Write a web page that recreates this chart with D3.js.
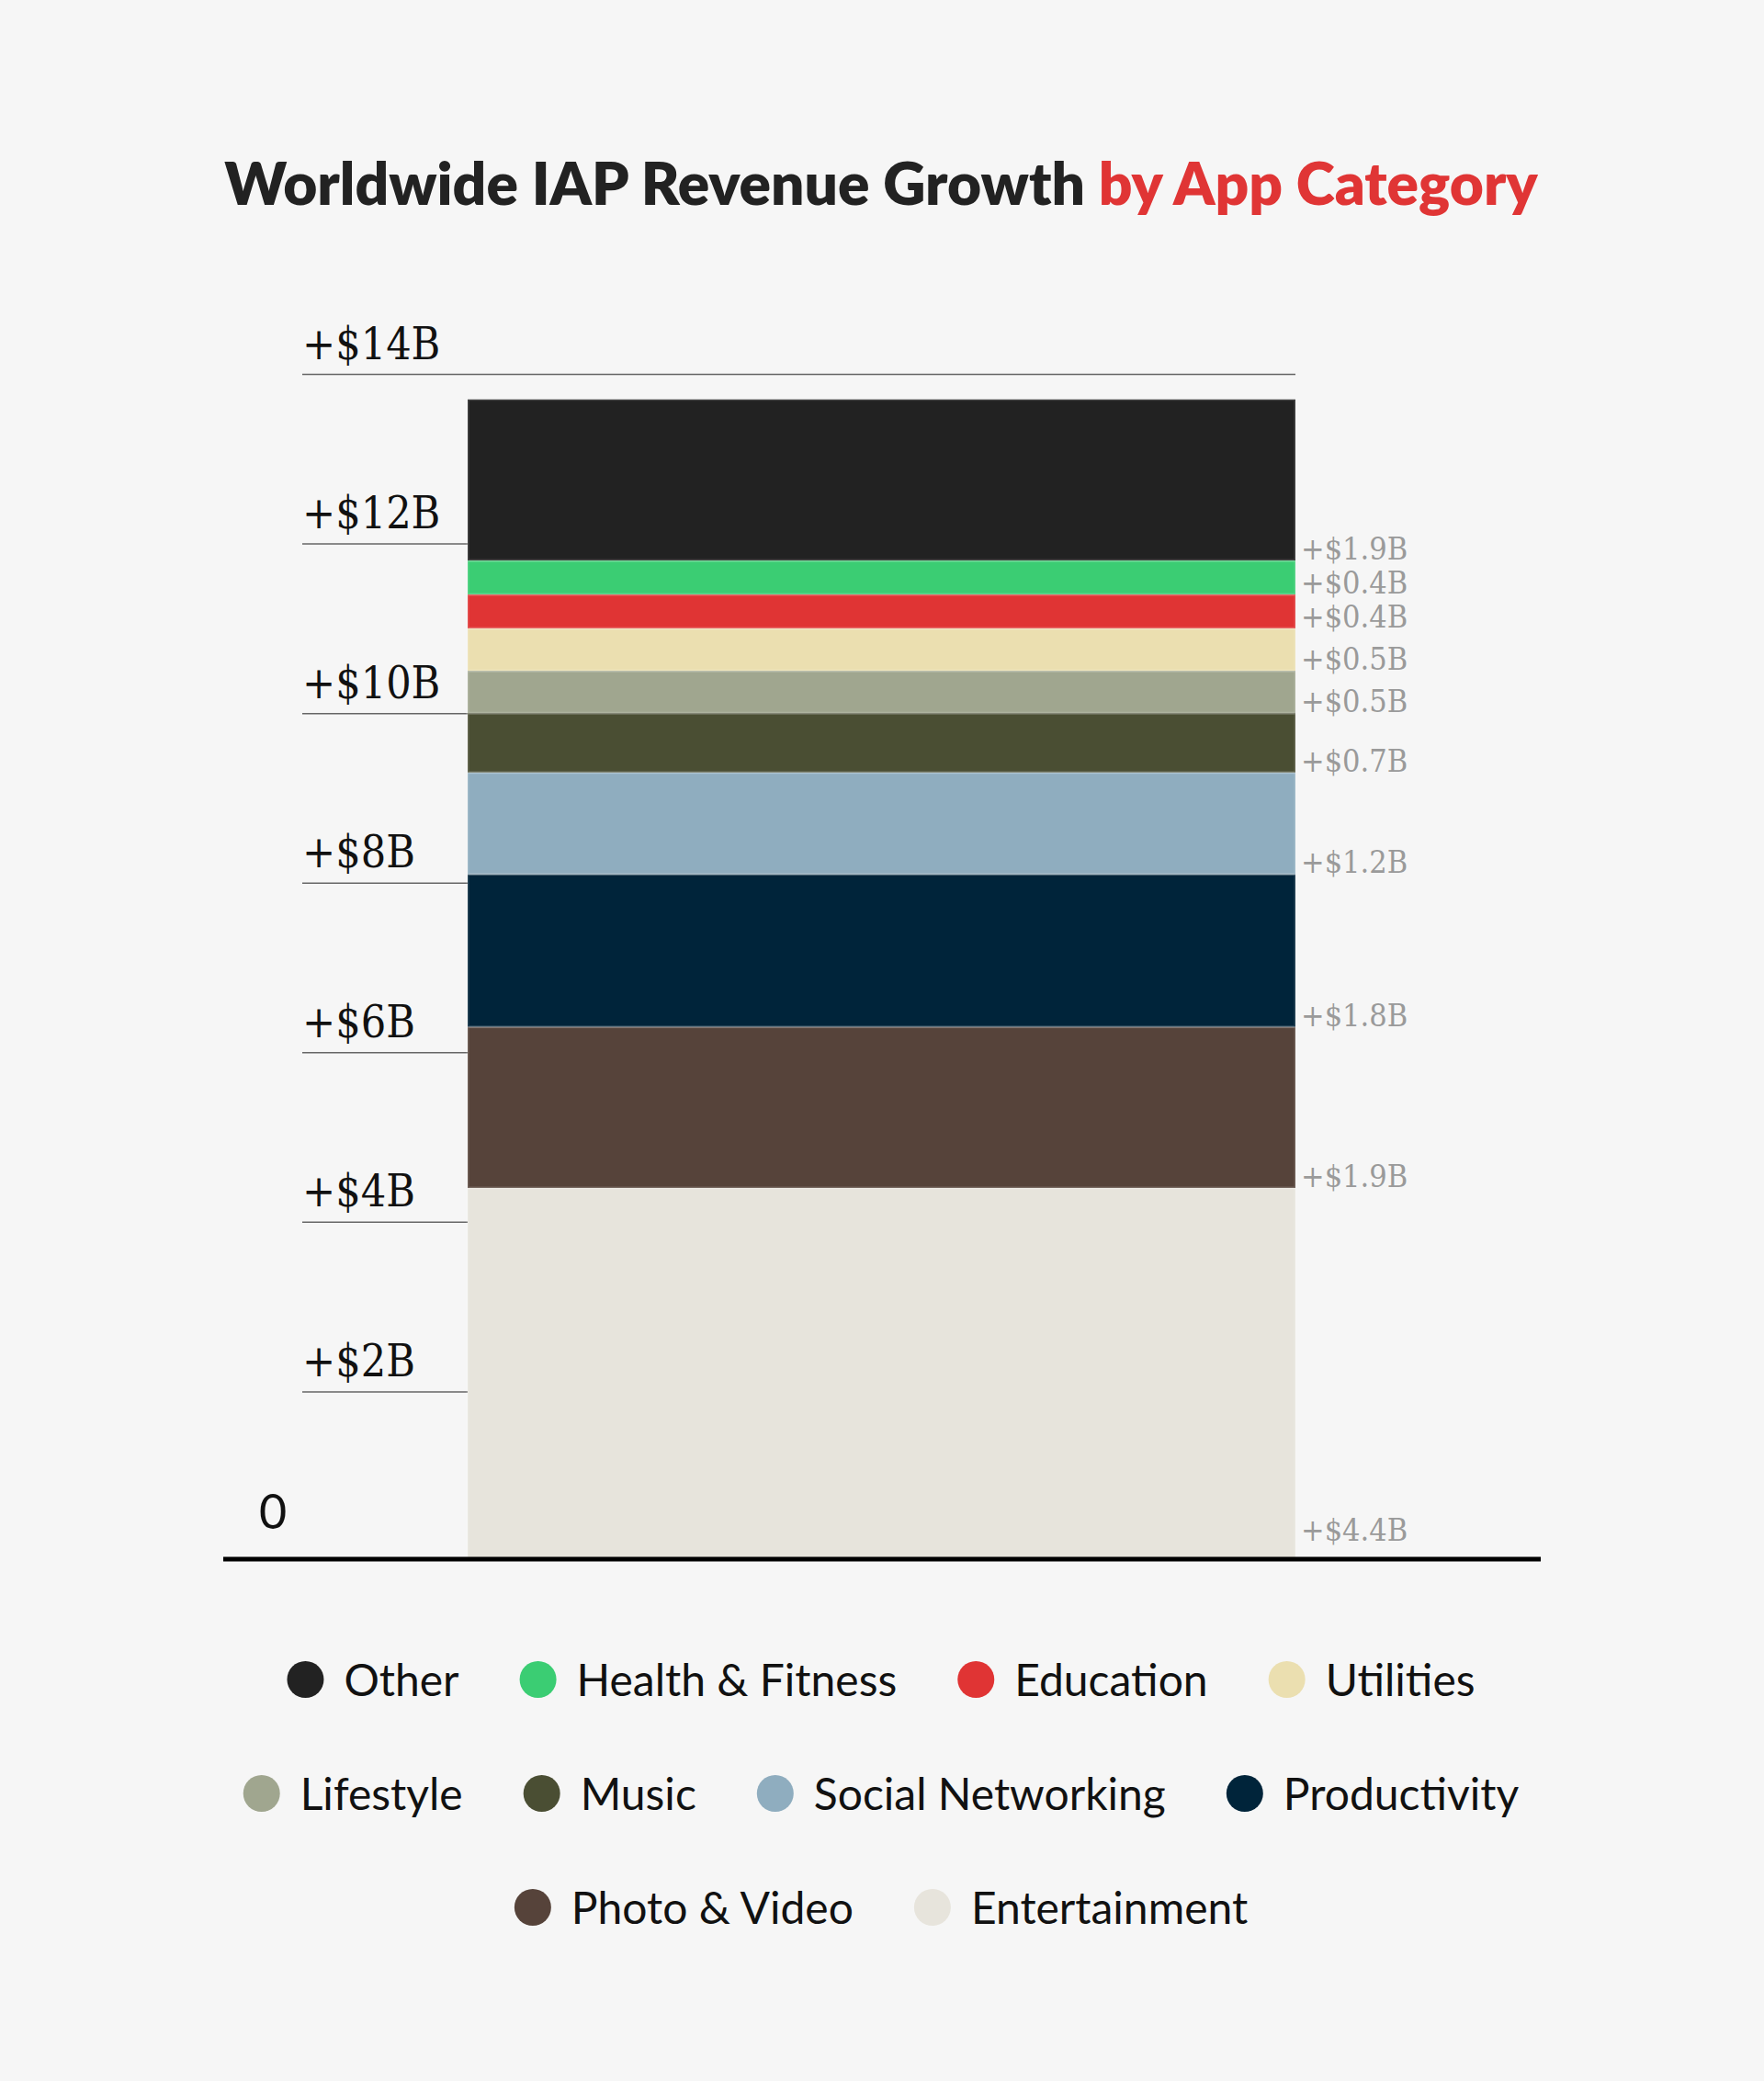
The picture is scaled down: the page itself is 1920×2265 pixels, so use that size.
<!DOCTYPE html>
<html>
<head>
<meta charset="utf-8">
<script src="https://cdn.jsdelivr.net/npm/d3@7"></script>
<style>
  body { margin: 0; background: #f6f6f6; }
  svg { display: block; }
</style>
</head>
<body>
<div id="chart"></div>
<script>
// stacking order, bottom to top
const categories = ['Entertainment', 'Photo & Video', 'Productivity', 'Social Networking', 'Music',
  'Lifestyle', 'Utilities', 'Education', 'Health & Fitness', 'Other'];
const growth = [4.4, 1.9, 1.8, 1.2, 0.7, 0.5, 0.5, 0.4, 0.4, 1.9];
const colors = ['#e7e4dc', '#56433a', '#00243a', '#8fadbf', '#4a4e33',
  '#a0a68f', '#ebdfb0', '#e03434', '#3bcd73', '#222222'];
const tickValues = [0, 2, 4, 6, 8, 10, 12, 14];
const legendRows = [
  ['Other', 'Health & Fitness', 'Education', 'Utilities'],
  ['Lifestyle', 'Music', 'Social Networking', 'Productivity'],
  ['Photo & Video', 'Entertainment']
];

const W = 1920, H = 2265;
const GridLeft = 329, BarLeft = 509, BarRight = 1410;
const Bottom = 1699, Top = 407;

const svg = d3.select('#chart').append('svg')
  .attr('width', W).attr('height', H)
  .style('background', '#f6f6f6');

// title
const title = svg.append('text')
  .attr('x', 959).attr('y', 223)
  .attr('text-anchor', 'middle')
  .style('font-family', 'Lato, sans-serif')
  .style('font-weight', 800)
  .style('font-size', '64px')
  .style('fill', '#222');
title.append('tspan').text('Worldwide IAP Revenue Growth ');
title.append('tspan').style('fill', '#e03535').text('by App Category');

const y = d3.scaleLinear().domain([0, 14]).range([Bottom, Top]);
const x = d3.scaleBand().domain(['growth']).range([BarLeft, BarRight]).padding(0);

// gridlines + tick labels
const axis = svg.append('g')
  .attr('transform', `translate(${GridLeft},0)`)
  .call(d3.axisRight(y)
    .tickValues(tickValues)
    .tickSize(BarRight - GridLeft)
    .tickFormat(d => (d === 0 ? '0' : `+$${d}B`)));
axis.select('.domain').remove();
axis.selectAll('.tick line').attr('stroke', '#666').attr('stroke-width', 1.5);
axis.selectAll('.tick text')
  .attr('x', 0).attr('y', -17).attr('dy', null)
  .attr('text-anchor', 'start')
  .style('font-family', '"DejaVu Serif", serif')
  .style('font-stretch', 'condensed')
  .style('font-size', '48px')
  .style('fill', '#111');
const zeroTick = axis.selectAll('.tick').filter(d => d === 0);
zeroTick.select('line').remove();
zeroTick.select('text')
  .attr('x', -47).attr('y', -36)
  .style('font-family', 'Lato, sans-serif')
  .style('font-stretch', null)
  .style('font-size', '52px');

// stacked bar
const row = {};
categories.forEach((c, i) => { row[c] = growth[i]; });
const series = d3.stack().keys(categories)([row]);

svg.append('g').selectAll('rect')
  .data(series)
  .enter()
  .append('rect')
  .attr('x', x('growth'))
  .attr('width', x.bandwidth())
  .attr('y', d => y(d[0][1]))
  .attr('height', d => y(d[0][0]) - y(d[0][1]))
  .attr('fill', (d, i) => colors[i])
  .attr('stroke', 'rgba(255,255,255,0.15)')
  .attr('stroke-width', 3);

// value labels on the right of each segment
svg.append('g').selectAll('text')
  .data(series)
  .enter()
  .append('text')
  .attr('x', BarRight + 6)
  .attr('y', d => Math.min(y(d[0][0]) - 1, Bottom - 22))
  .style('font-family', '"DejaVu Serif", serif')
  .style('font-stretch', 'condensed')
  .style('font-size', '34px')
  .style('fill', '#9a9a9a')
  .text((d, i) => `+$${growth[i]}B`);

// baseline
svg.append('line')
  .attr('x1', 243).attr('x2', 1677)
  .attr('y1', 1697).attr('y2', 1697)
  .attr('stroke', '#000').attr('stroke-width', 5);

// legend
const colorOf = d3.scaleOrdinal().domain(categories).range(colors);
const legend = svg.append('g');
legendRows.forEach((names, r) => {
  const cy = 1828 + r * 124;
  const rowG = legend.append('g');
  let cx = 0;
  names.forEach((name, j) => {
    const item = rowG.append('g').attr('transform', `translate(${cx},${cy})`);
    item.append('circle').attr('cx', 20).attr('cy', 0).attr('r', 20).attr('fill', colorOf(name));
    const t = item.append('text')
      .attr('x', 62).attr('y', 18)
      .style('font-family', 'Lato, sans-serif')
      .style('font-size', '48px')
      .style('fill', '#111')
      .text(name);
    cx += 62 + t.node().getComputedTextLength() + (j < names.length - 1 ? 66 : 0);
  });
  rowG.attr('transform', `translate(${959 - cx / 2},0)`);
});
</script>
</body>
</html>
